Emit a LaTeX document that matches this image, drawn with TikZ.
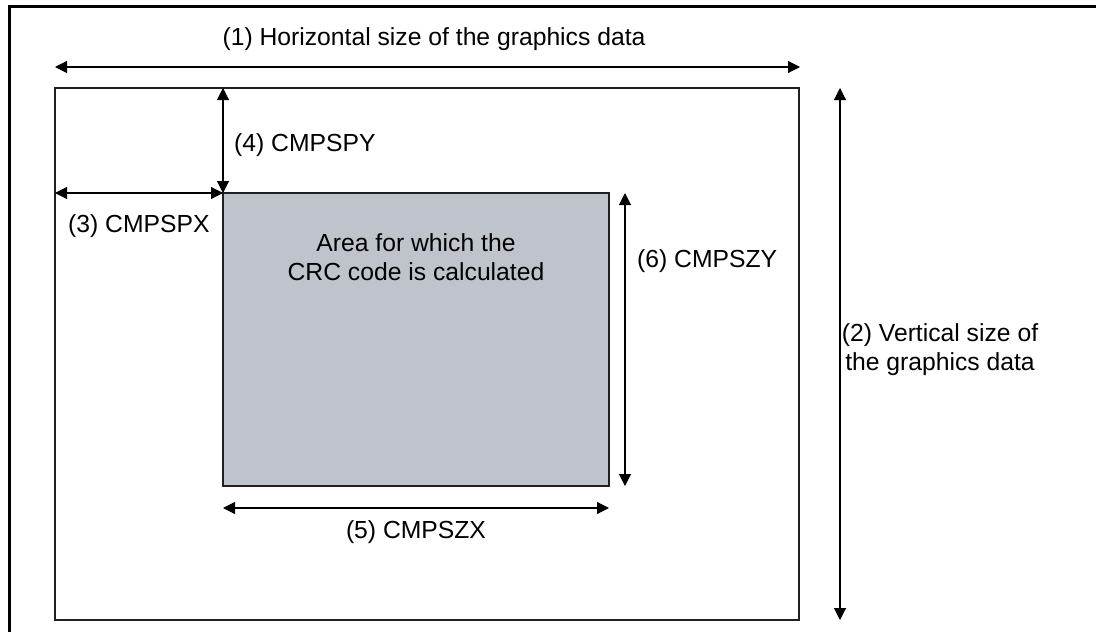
\documentclass[tikz,border=0pt]{standalone}
\usepackage{fontspec}
\setmainfont{Liberation Sans}
\usetikzlibrary{arrows.meta}
\definecolor{areagray}{RGB}{191,196,204}
\definecolor{edgegray}{RGB}{35,31,32}

\begin{document}
\begin{tikzpicture}[x=1pt, y=-1pt, >={Triangle[length=12pt, width=12pt]},
  dim/.style={<->, line width=1.1pt},
  lbl/.style={inner sep=0pt, font=\fontsize{24.7}{29}\selectfont},
  box/.style={draw=edgegray, line width=2.6pt}]
\useasboundingbox (0,0) rectangle (1096,632);

% --- outer frame (cut at right and bottom) ---
\draw[line width=3pt] (9,632) -- (9,6) -- (1096,6);

% --- graphics data ---
\coordinate (gNW) at (55,88);
\coordinate (gSE) at (799,620);
\draw[box] (gNW) rectangle (gSE);

% --- CRC area ---
\coordinate (aNW) at (223,193);
\coordinate (aSE) at (609,486);
\draw[box, fill=areagray] (aNW) rectangle (aSE);
\node[lbl, align=center] (area) at (416,257) {Area for which the\\CRC code is calculated};

% --- (1) horizontal size ---
\coordinate (hL) at (55,67);
\coordinate (hR) at (800,67);
\draw[dim] (hL) -- (hR);
\node[lbl, anchor=base] (hsize) at (434,45) {(1) Horizontal size of the graphics data};

% --- (2) vertical size ---
\coordinate (vT) at (840,88);
\coordinate (vB) at (840,620);
\draw[dim] (vT) -- (vB);
\node[lbl, align=center] (vsize) at (940,350) {(2) Vertical size of\\the graphics data};

% --- (3) CMPSPX ---
\coordinate (pxL) at (55,193);
\coordinate (pxR) at (223,193);
\draw[dim] (pxL) -- (pxR);
\node[lbl, anchor=base west] (cmpspx) at (68,232) {(3) CMPSPX};

% --- (4) CMPSPY ---
\coordinate (pyT) at (223,88);
\coordinate (pyB) at (223,193);
\draw[dim] (pyT) -- (pyB);
\node[lbl, anchor=base west] (cmpspy) at (234,151) {(4) CMPSPY};

% --- (5) CMPSZX ---
\coordinate (zxL) at (223,508);
\coordinate (zxR) at (609,508);
\draw[dim] (zxL) -- (zxR);
\node[lbl, anchor=base] (cmpszx) at (416,538) {(5) CMPSZX};

% --- (6) CMPSZY ---
\coordinate (zyT) at (625,193);
\coordinate (zyB) at (625,486);
\draw[dim] (zyT) -- (zyB);
\node[lbl, anchor=base west] (cmpszy) at (637,267) {(6) CMPSZY};

\end{tikzpicture}
\end{document}
